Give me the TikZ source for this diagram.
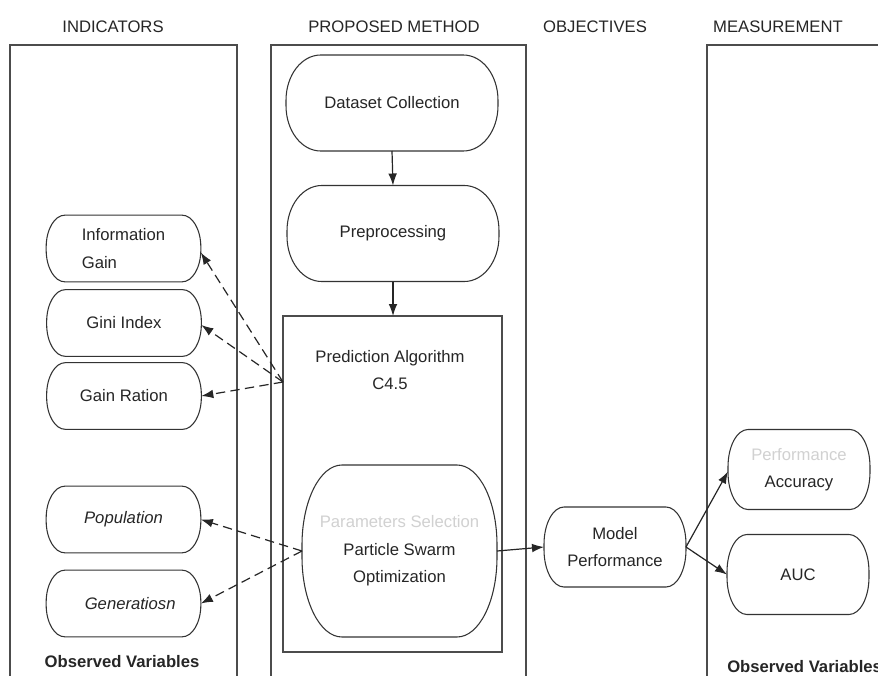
\documentclass[tikz,border=0pt]{standalone}
\usepackage{fontspec}
\setmainfont{Liberation Sans}
\usetikzlibrary{arrows.meta,calc}
% draw a rectangle with elliptical corners round a named node: name, x radius, y radius
\newcommand{\ellipbox}[3]{%
  \draw[shapeline] ($(#1.north west)+(#2,0)$) -- ($(#1.north east)+(-#2,0)$)
    arc[start angle=90,end angle=0,x radius=#2,y radius=#3]
    -- ($(#1.south east)+(0,#3)$)
    arc[start angle=0,end angle=-90,x radius=#2,y radius=#3]
    -- ($(#1.south west)+(#2,0)$)
    arc[start angle=270,end angle=180,x radius=#2,y radius=#3]
    -- ($(#1.north west)+(0,-#3)$)
    arc[start angle=180,end angle=90,x radius=#2,y radius=#3] -- cycle;}
\begin{document}
\begin{tikzpicture}[x=0.75pt,y=-0.75pt,
  every node/.style={font=\fontsize{12.5}{20.5}\selectfont, text=black!85},
  shapebox/.style={inner sep=0pt, outer sep=0pt, align=center},
  small/.style={shapebox, minimum width=116pt, minimum height=50pt},
  mid/.style={shapebox, minimum width=106.5pt, minimum height=60pt},
  big/.style={shapebox, minimum width=159pt, minimum height=72pt},
  shapeline/.style={draw=black!80, line width=0.8pt},
  colline/.style={draw=black!70, line width=0.8pt},
  head/.style={inner sep=0pt},
  faint/.style={text=black!20},
  edge/.style={draw=black!85, line width=0.9pt, -{Latex[length=9pt,width=6.5pt]}},
  dedge/.style={edge, dash pattern=on 7pt off 4pt}]
\useasboundingbox (0,0) rectangle (878,675);
\fill[white] (0,0) rectangle (878,675);

% column frames (open at the bottom)
\draw[colline] (10,690) -- (10,45) -- (237,45) -- (237,690);
\draw[colline] (271,690) -- (271,45) -- (526,45) -- (526,690);
\draw[colline] (707,690) -- (707,45) -- (890,45);

% headers
\node[head] (hInd) at (113,27) {INDICATORS};
\node[head] (hMet) at (394,27) {PROPOSED METHOD};
\node[head] (hObj) at (595,27) {OBJECTIVES};
\node[head] (hMea) at (778,27) {MEASUREMENT};

% proposed method
\node[big] (DC) at (392,103) {Dataset Collection};
\ellipbox{DC}{26pt}{34pt}
\node[big] (PRE) at (393,233.5) {Preprocessing};
\ellipbox{PRE}{26pt}{34pt}
\node[shapebox, draw=black!70, line width=0.8pt, minimum width=164.25pt, minimum height=252pt] (PA) at (392.5,484) {};
\node[align=center, inner sep=0pt] (PAtext) at (390,370) {Prediction Algorithm\\C4.5};
\node[shapebox, minimum width=146.25pt, minimum height=129pt] (PSO) at (399.5,551)
  {{\color{black!18}Parameters Selection}\\Particle Swarm\\Optimization};
\ellipbox{PSO}{30pt}{60pt}

% indicators
\node[small, align=left] (IG) at (123.5,248.5) {Information\\Gain};
\ellipbox{IG}{14pt}{24pt}
\node[small] (GI) at (124,323) {Gini Index};
\ellipbox{GI}{14pt}{24pt}
\node[small] (GR) at (124,396) {Gain Ration};
\ellipbox{GR}{14pt}{24pt}
\node[small] (POP) at (123.5,519.5) {\itshape Population};
\ellipbox{POP}{14pt}{24pt}
\node[small] (GEN) at (123.5,603.5) {\hspace*{10pt}\itshape Generatiosn};
\ellipbox{GEN}{14pt}{24pt}
\node[head, font=\fontsize{12.5}{15}\selectfont\bfseries] (OV1) at (122,662) {Observed Variables};

% objectives
\node[mid] (MP) at (615,547) {Model\\Performance};
\ellipbox{MP}{15pt}{28pt}

% measurement
\node[mid] (ACC) at (799,469.5) {{\color{black!18}Performance}\\Accuracy};
\ellipbox{ACC}{15pt}{28pt}
\node[mid] (AUC) at (798,574.5) {AUC};
\ellipbox{AUC}{15pt}{28pt}
\node[head, anchor=west, font=\fontsize{12.5}{15}\selectfont\bfseries] (OV2) at (727,667) {Observed Variables};

% connectors
\draw[edge] (DC.south) -- (PRE.north);
\draw[edge] (PRE.south) -- (PRE.south |- PA.north);
\coordinate (cv) at (283,382);
\draw[dedge] (cv) -- ($(IG.east)+(0,4)$);
\draw[dedge] (cv) -- ($(GI.east)+(0,2)$);
\draw[dedge] (cv) -- (GR.east);
\draw[dedge] (PSO.west) -- (POP.east);
\draw[dedge] (PSO.west) -- (GEN.east);
\draw[edge] (PSO.east) -- (MP.west);
\draw[edge] (MP.east) -- ($(ACC.west)+(0,2)$);
\draw[edge] (MP.east) -- (AUC.west);
\end{tikzpicture}
\end{document}
